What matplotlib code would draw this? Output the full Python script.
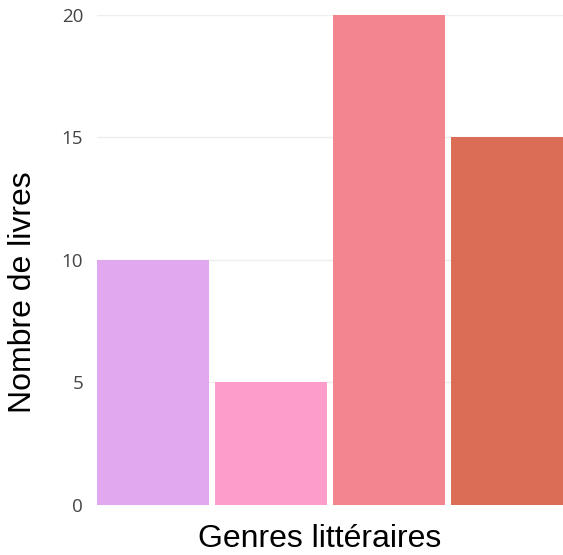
import numpy as np
import matplotlib.pyplot as plt

# bar values (no category tick labels shown in the chart)
genres = ["Genre 1", "Genre 2", "Genre 3", "Genre 4"]
nb_livres = [10, 5, 20, 15]
couleurs = ["#E1A8EF", "#FC9DCB", "#F3858F", "#DB6C56"]
y_ticks = [0, 5, 10, 15, 20]

fig = plt.figure(figsize=(5.63, 5.55), dpi=100)
ax = fig.add_axes([0.1723, 0.0901, 0.8277, 0.8829])

x = np.arange(len(genres))
ax.bar(x, nb_livres, width=0.95, color=couleurs, zorder=2)

ax.set_xlim(-0.475, len(genres) - 0.525)
ax.set_ylim(0, 20)
ax.set_yticks(y_ticks)
ax.set_yticklabels([str(t) for t in y_ticks], fontsize=13.5, color="#444444",
                   family="Open Sans")
ax.set_xticks([])
ax.tick_params(axis="y", length=0, pad=10)

ax.grid(True, axis="y", color="#eeeeee", linewidth=1, zorder=0)
for s in ax.spines.values():
    s.set_visible(False)

ax.set_xlabel("Genres littéraires", fontsize=23, family="Liberation Sans",
              labelpad=14)
ax.set_ylabel("Nombre de livres", fontsize=23, family="Liberation Sans",
              labelpad=17)
# labels are not centred on the plot area in the reference
ax.xaxis.label.set_x(0.478)
ax.yaxis.label.set_y(0.435)

fig.savefig("out.png", dpi=100)
